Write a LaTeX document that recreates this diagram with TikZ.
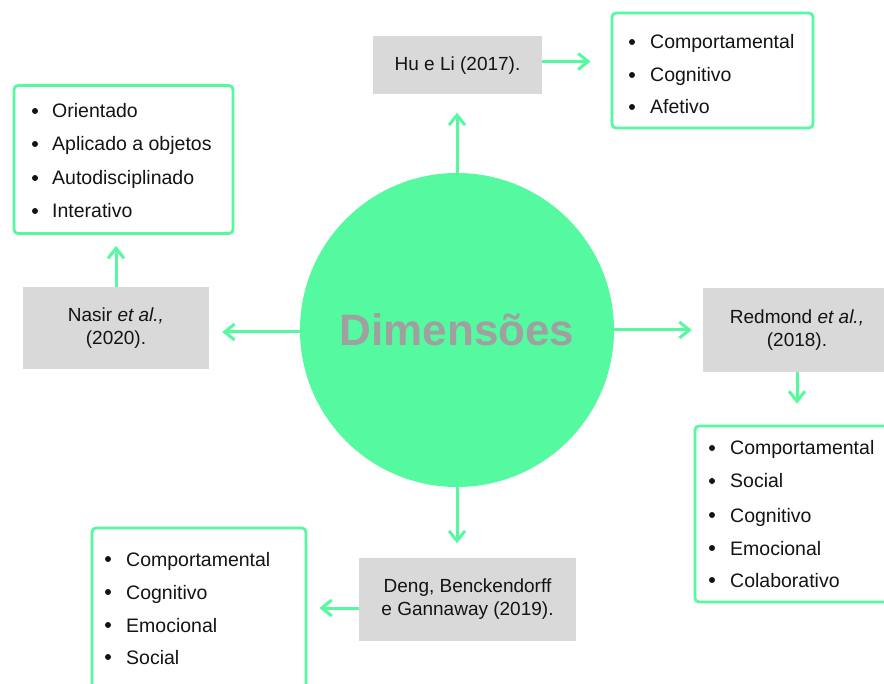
\documentclass[tikz,border=0pt]{standalone}
\usepackage{fontspec}
\setmainfont{Liberation Sans}
\usetikzlibrary{arrows.meta,calc}
\definecolor{mint}{RGB}{85,249,160}
\definecolor{boxgray}{RGB}{217,217,217}
\definecolor{titlegray}{RGB}{160,160,160}
\definecolor{ink}{RGB}{20,20,20}
\begin{document}
\begin{tikzpicture}[x=1pt,y=-1pt,
  refbox/.style={fill=boxgray,draw=none,inner sep=0pt,align=center,text=ink,
    font=\fontsize{19}{22}\selectfont},
  listbox/.style={draw=mint,line width=2.8pt,rounded corners=4pt,fill=white,inner sep=0pt},
  bul/.style={circle,fill=ink,minimum size=6pt,inner sep=0pt},
  itm/.style={anchor=base west,inner sep=0pt,text=ink,font=\fontsize{19.5}{22}\selectfont},
  arr/.style={draw=mint,line width=3pt,-{Straight Barb[length=10pt,width=16pt,line width=3pt]}}
]
\useasboundingbox (0,0) rectangle (884,684);
\fill[white] (0,0) rectangle (884,684);

% central circle
\node[circle,fill=mint,minimum size=314pt,inner sep=0pt] (circ) at (457,330) {};
\node[text=titlegray,font=\bfseries\fontsize{44}{48}\selectfont,inner sep=0pt] (title) at (457,330) {Dimensões};

% Hu e Li
\node[refbox,minimum width=169pt,minimum height=58pt] (hu) at (457.5,65.5) {Hu e Li (2017).};
\node[listbox,minimum width=201pt,minimum height=115pt] (hul) at (712.5,70.5) {};
\node[bul] (hub1) at (632,42) {};
\node[itm] (hut1) at (650,49) {Comportamental};
\node[bul] (hub2) at (632,75) {};
\node[itm] (hut2) at (650,82) {Cognitivo};
\node[bul] (hub3) at (632,107) {};
\node[itm] (hut3) at (650,114) {Afetivo};

% Nasir
\node[refbox,minimum width=186pt,minimum height=82pt] (nas) at (116,328) {Nasir \textit{et al.,}\\[1pt](2020).};
\node[listbox,minimum width=219pt,minimum height=148pt] (nasl) at (123.5,159.5) {};
\node[bul] (nab1) at (35,111) {};
\node[itm] (nat1) at (52,118) {Orientado};
\node[bul] (nab2) at (35,144) {};
\node[itm] (nat2) at (52,151) {Aplicado a objetos};
\node[bul] (nab3) at (35,178) {};
\node[itm] (nat3) at (52,185) {Autodisciplinado};
\node[bul] (nab4) at (35,211) {};
\node[itm] (nat4) at (52,218) {Interativo};

% Redmond
\node[refbox,minimum width=188pt,minimum height=84pt] (red) at (797,330) {Redmond \textit{et al.,}\\[1pt](2018).};
\node[listbox,minimum width=205pt,minimum height=176pt] (redl) at (797.5,514) {};
\node[bul] (reb1) at (712,448) {};
\node[itm] (ret1) at (730,455) {Comportamental};
\node[bul] (reb2) at (712,481) {};
\node[itm] (ret2) at (730,488) {Social};
\node[bul] (reb3) at (712,515) {};
\node[itm] (ret3) at (730,522) {Cognitivo};
\node[bul] (reb4) at (712,548) {};
\node[itm] (ret4) at (730,555) {Emocional};
\node[bul] (reb5) at (712,580) {};
\node[itm] (ret5) at (730,587) {Colaborativo};

% Deng
\node[refbox,minimum width=217pt,minimum height=83pt] (deng) at (467.5,599) {Deng, Benckendorff\\[1pt]e Gannaway (2019).};
\node[listbox,minimum width=214pt,minimum height=180pt] (dengl) at (199,618) {};
\node[bul] (deb1) at (108,559) {};
\node[itm] (det1) at (126,566) {Comportamental};
\node[bul] (deb2) at (108,592) {};
\node[itm] (det2) at (126,599) {Cognitivo};
\node[bul] (deb3) at (108,625) {};
\node[itm] (det3) at (126,632) {Emocional};
\node[bul] (deb4) at (108,657) {};
\node[itm] (det4) at (126,664) {Social};

% connectors
\draw[arr,shorten >=18pt] (circ.north) -- (circ.north |- hu.south);
\draw[arr,shorten >=20pt] ([yshift=4pt]hu.east) -- ([yshift=4pt]hu.east -| hul.west);
\draw[arr,shorten >=13pt] ([yshift=-2pt]circ.west) -- ([yshift=-2pt]circ.west -| nas.east);
\draw[arr,shorten >=11pt] (nas.north) -- (nas.north |- nasl.south);
\draw[arr,shorten >=11pt] (circ.east) -- (circ.east -| red.west);
\draw[arr,shorten >=21pt] (red.south) -- (red.south |- redl.north);
\draw[arr,shorten >=14pt] (circ.south) -- (circ.south |- deng.north);
\draw[arr,shorten >=12pt] ([yshift=-9pt]deng.west) -- ([yshift=-9pt]deng.west -| dengl.east);
\end{tikzpicture}
\end{document}
